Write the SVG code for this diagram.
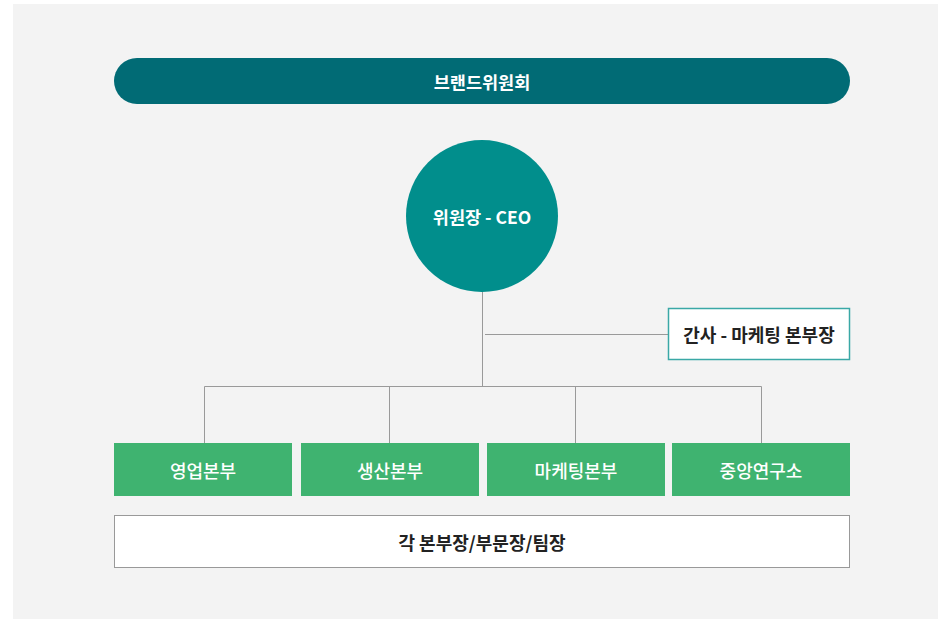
<svg xmlns="http://www.w3.org/2000/svg" width="938" height="619" viewBox="0 0 938 619">
<style>
text{font-family:"Noto Sans CJK KR","Noto Sans",sans-serif;font-size:17.5px;text-anchor:middle;dominant-baseline:central}
.w{fill:#ffffff;font-weight:bold}
.d{fill:#222222;font-weight:bold;font-size:18px}
.g{fill:#ffffff;font-weight:500;font-size:18px}
.dept{fill:#3fb370}
.line{stroke:#999999;stroke-width:1;fill:none}
</style>
<rect x="13" y="4" width="925" height="615" fill="#f3f3f3"/>
<g id="connectors">
<path class="line" d="M482.5 292V386.5M485 334.5H668M204.5 443V386.5H761.5V443M389.5 386.5V443M575.5 386.5V443"/>
</g>
<g id="committee">
<rect x="114" y="58" width="736" height="46" rx="23" fill="#016b75"/>
<text class="w" x="482" y="81">브랜드위원회</text>
</g>
<g id="ceo">
<circle cx="482" cy="216" r="76" fill="#018e8c"/>
<text class="w" x="482" y="216">위원장 - CEO</text>
</g>
<g id="secretary">
<rect x="668.5" y="308.5" width="181" height="51" fill="#ffffff" stroke="#3aa8a6" stroke-width="1.5"/>
<text class="d" x="759" y="334">간사 - 마케팅 본부장</text>
</g>
<g id="sales">
<rect class="dept" x="114" y="443" width="178" height="53"/>
<text class="g" x="203" y="469.5">영업본부</text>
</g>
<g id="production">
<rect class="dept" x="301" y="443" width="178" height="53"/>
<text class="g" x="390" y="469.5">생산본부</text>
</g>
<g id="marketing">
<rect class="dept" x="487" y="443" width="178" height="53"/>
<text class="g" x="576" y="469.5">마케팅본부</text>
</g>
<g id="research">
<rect class="dept" x="672" y="443" width="178" height="53"/>
<text class="g" x="761" y="469.5">중앙연구소</text>
</g>
<g id="heads">
<rect x="114.5" y="515.5" width="735" height="52" fill="#ffffff" stroke="#999999" stroke-width="1"/>
<text class="d" x="482" y="541.5">각 본부장/부문장/팀장</text>
</g>
</svg>
